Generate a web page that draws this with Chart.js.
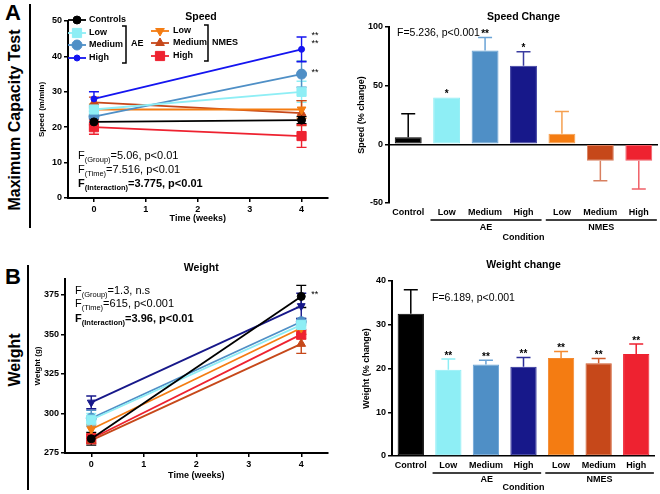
<!DOCTYPE html>
<html>
<head>
<meta charset="utf-8">
<script src="https://cdn.jsdelivr.net/npm/chart.js@4.4.1/dist/chart.umd.min.js"></script>
<style>
  body { margin: 0; background: #fff; width: 660px; height: 494px; position: relative; overflow: hidden; font-family: "Liberation Sans", Arial, sans-serif; }
  .box { position: absolute; }
  .big { position: absolute; font-weight: bold; color: #000; white-space: nowrap; }
  .rot { transform: translate(-50%, -50%) rotate(-90deg); }
  .vline { position: absolute; width: 0; border-left: 2px solid #000; }
</style>
</head>
<body>
<div class="big" style="left:5px;top:0px;font-size:22px;">A</div>
<div class="big rot" style="left:15px;top:120px;font-size:16px;">Maximum Capacity Test</div>
<div class="vline" style="left:29px;top:4px;height:224px;"></div>
<div class="big" style="left:5px;top:264px;font-size:22px;">B</div>
<div class="big rot" style="left:15px;top:360px;font-size:16px;">Weight</div>
<div class="vline" style="left:27px;top:265px;height:225px;"></div>

<div class="box" style="left:30px;top:0px;"><canvas id="c1" width="305" height="236"></canvas></div>
<div class="box" style="left:335px;top:0px;"><canvas id="c2" width="325" height="244"></canvas></div>
<div class="box" style="left:30px;top:248px;"><canvas id="c3" width="305" height="246"></canvas></div>
<div class="box" style="left:335px;top:248px;"><canvas id="c4" width="325" height="246"></canvas></div>

<script>
// ---- data ----
const weeks = [0, 4];
const weekTicks = [0, 1, 2, 3, 4];
const groupNames = ['Controls', 'Low', 'Medium', 'High', 'Low', 'Medium', 'High'];

// speed (m/min) at week 0 and 4
const speedControls = [21.5, 22];
const speedAeLow = [25, 30];
const speedAeMed = [23, 35];
const speedAeHigh = [28, 42];
const speedNmLow = [25, 25];
const speedNmMed = [27, 24];
const speedNmHigh = [20, 17.5];
const speedErr = [[0.8, 1], [1.5, 3], [1.5, 3.7], [2, 3.5], [1.5, 2.5], [1.5, 3.5], [2, 3.2]];

// weight (g) at week 0 and 4
const weightControls = [284, 374];
const weightAeLow = [296, 356];
const weightAeMed = [297, 358];
const weightAeHigh = [307, 368];
const weightNmLow = [290, 354];
const weightNmMed = [283, 344];
const weightNmHigh = [284, 350];
const weightErr = [[4, 7], [4, 3], [5, 2], [4, 8], [3, 4], [2, 6], [3, 3]];

const conditions = ['Control', 'Low', 'Medium', 'High', 'Low', 'Medium', 'High'];
const speedChange = [6, 40, 80, 67, 9, -14, -14];
const speedChangeErr = [20, 0, 11, 12, 19, 17, 24];
const speedChangeStars = ['', '*', '**', '*', '', '', ''];
const weightChange = [32.5, 19.7, 20.9, 20.4, 22.4, 21.2, 23.3];
const weightChangeErr = [5.5, 2.5, 1, 2.1, 1.5, 1.1, 2.3];
const weightChangeStars = ['', '**', '**', '**', '**', '**', '**'];

// ---- styles ----
const FONT = '"Liberation Sans", Arial, sans-serif';
const colA = ['#000000', '#8eeef5', '#4f8fc6', '#1414f0', '#f47c12', '#c6481a', '#ee2230'];
const colB = ['#000000', '#8eeef5', '#4f8fc6', '#17188a', '#f47c12', '#c6481a', '#ee2230'];
const marks = ['circle', 'rect', 'circle', 'circle', 'triangle', 'triangle', 'rect'];
const markSize = [4, 6.5, 5, 3, 5, 5, 6.5];
const markRot = [0, 0, 0, 0, 180, 0, 0];

const tickFont = { family: FONT, size: 9, weight: 'bold' };
const titleFont = { family: FONT, size: 9, weight: 'bold' };

function drawMark(ctx, style, r, rot, color, x, y) {
  ctx.save();
  ctx.fillStyle = color;
  ctx.strokeStyle = color;
  Chart.helpers.drawPoint(ctx, { pointStyle: style, radius: r, rotation: rot, borderWidth: 1 }, x, y);
  ctx.restore();
}

// text with subscripts: parts = [[text, isSub], ...]
function subText(ctx, x, y, parts, bold) {
  const w = bold ? 'bold ' : '';
  ctx.save();
  ctx.fillStyle = '#000';
  ctx.textBaseline = 'middle';
  ctx.textAlign = 'left';
  parts.forEach(([t, sub]) => {
    ctx.font = w + (sub ? '7.5px ' : '11px ') + FONT;
    ctx.fillText(t, x, sub ? y + 4 : y);
    x += ctx.measureText(t).width;
  });
  ctx.restore();
}

function plainText(ctx, t, x, y, font, align) {
  ctx.save();
  ctx.fillStyle = '#000';
  ctx.font = font;
  ctx.textAlign = align || 'center';
  ctx.textBaseline = 'middle';
  ctx.fillText(t, x, y);
  ctx.restore();
}

const lineErrors = {
  id: 'lineErrors',
  beforeDatasetsDraw(chart) {
    const ctx = chart.ctx, ys = chart.scales.y;
    chart.data.datasets.forEach((ds, i) => {
      chart.getDatasetMeta(i).data.forEach((pt, j) => {
        const v = ds.data[j].y, e = ds.err[j];
        const top = ys.getPixelForValue(v + e), bot = ys.getPixelForValue(v - e);
        ctx.save();
        ctx.strokeStyle = ds.borderColor;
        ctx.lineWidth = 1.4;
        ctx.beginPath();
        ctx.moveTo(pt.x, top); ctx.lineTo(pt.x, bot);
        ctx.moveTo(pt.x - 5, top); ctx.lineTo(pt.x + 5, top);
        ctx.moveTo(pt.x - 5, bot); ctx.lineTo(pt.x + 5, bot);
        ctx.stroke();
        ctx.restore();
      });
    });
  }
};

const barErrors = {
  id: 'barErrors',
  afterDatasetsDraw(chart) {
    const ctx = chart.ctx, ys = chart.scales.y;
    const ds = chart.data.datasets[0];
    chart.getDatasetMeta(0).data.forEach((bar, j) => {
      const v = ds.data[j], e = ds.err[j];
      const end = v >= 0 ? v + e : v - e;
      const y0 = ys.getPixelForValue(v), y1 = ys.getPixelForValue(end);
      ctx.save();
      if (e > 0) {
        ctx.strokeStyle = ds.errColor[j];
        ctx.lineWidth = 1.5;
        ctx.beginPath();
        ctx.moveTo(bar.x, y0); ctx.lineTo(bar.x, y1);
        ctx.moveTo(bar.x - 7, y1); ctx.lineTo(bar.x + 7, y1);
        ctx.stroke();
      }
      if (ds.stars[j]) {
        ctx.fillStyle = '#000';
        ctx.font = 'bold 10px ' + FONT;
        ctx.textAlign = 'center';
        ctx.textBaseline = 'bottom';
        ctx.fillText(ds.stars[j], bar.x, Math.min(y0, y1) + 2);
      }
      ctx.restore();
    });
  }
};

// group brackets AE / NMES under bar charts
function groupLines(lineY, labelY) {
  return {
    id: 'groups',
    afterDraw(chart) {
      const ctx = chart.ctx, xs = chart.scales.x;
      const step = xs.getPixelForValue(1) - xs.getPixelForValue(0);
      [['AE', 1, 3], ['NMES', 4, 6]].forEach(([name, a, b]) => {
        const x0 = xs.getPixelForValue(a) - step * 0.42, x1 = xs.getPixelForValue(b) + step * 0.47;
        ctx.save();
        ctx.strokeStyle = '#000';
        ctx.lineWidth = 1.5;
        ctx.beginPath();
        ctx.moveTo(x0, lineY); ctx.lineTo(x1, lineY);
        ctx.stroke();
        ctx.restore();
        plainText(ctx, name, (x0 + x1) / 2, labelY, 'bold 9px ' + FONT);
      });
    }
  };
}

function axisOpts(extra) {
  return Object.assign({
    grid: { drawOnChartArea: false, color: '#000', tickColor: '#000', tickLength: 4, lineWidth: 1.5 },
    border: { display: true, color: '#000', width: 2 },
    ticks: { font: tickFont, color: '#000', padding: 2 }
  }, extra);
}

function lineDatasets(series, errs, colors, rots) {
  return series.map((vals, i) => ({
    label: groupNames[i],
    data: weeks.map((w, j) => ({ x: w, y: vals[j] })),
    err: errs[i],
    borderColor: colors[i],
    backgroundColor: colors[i],
    pointBorderColor: colors[i],
    pointStyle: marks[i],
    pointRadius: markSize[i],
    pointRotation: rots[i],
    pointBorderWidth: 1,
    borderWidth: 1.8,
    tension: 0
  }));
}

// ---- A: speed lines ----
const speedLegend = {
  id: 'speedLegend',
  afterDraw(chart) {
    const ctx = chart.ctx;
    const rowsL = [20, 33, 45, 58], rowsR = [31, 43, 56];
    const lf = 'bold 9px ' + FONT;
    rowsL.forEach((y, i) => {
      ctx.save(); ctx.strokeStyle = colA[i]; ctx.lineWidth = 1.8;
      ctx.beginPath(); ctx.moveTo(38, y); ctx.lineTo(56, y); ctx.stroke(); ctx.restore();
      drawMark(ctx, marks[i], markSize[i], markRot[i], colA[i], 47, y);
      plainText(ctx, groupNames[i], 59, y, lf, 'left');
    });
    rowsR.forEach((y, k) => {
      const i = k + 4;
      ctx.save(); ctx.strokeStyle = colA[i]; ctx.lineWidth = 1.8;
      ctx.beginPath(); ctx.moveTo(121, y); ctx.lineTo(139, y); ctx.stroke(); ctx.restore();
      drawMark(ctx, marks[i], markSize[i], markRot[i], colA[i], 130, y);
      plainText(ctx, groupNames[i], 143, y, lf, 'left');
    });
    ctx.save(); ctx.strokeStyle = '#000'; ctx.lineWidth = 1.5;
    ctx.beginPath();
    ctx.moveTo(92, 26); ctx.lineTo(96, 26); ctx.lineTo(96, 63); ctx.lineTo(92, 63);
    ctx.moveTo(174, 25); ctx.lineTo(178, 25); ctx.lineTo(178, 61); ctx.lineTo(174, 61);
    ctx.stroke(); ctx.restore();
    plainText(ctx, 'AE', 101, 44, lf, 'left');
    plainText(ctx, 'NMES', 182, 43, lf, 'left');
    plainText(ctx, 'Speed', 171, 17, 'bold 10.5px ' + FONT);

    subText(ctx, 48, 156, [['F', 0], ['(Group)', 1], ['=5.06, p<0.01', 0]]);
    subText(ctx, 48, 170, [['F', 0], ['(Time)', 1], ['=7.516, p<0.01', 0]]);
    subText(ctx, 48, 184, [['F', 0], ['(Interaction)', 1], ['=3.775, p<0.01', 0]], true);

    const xs = chart.scales.x, ys = chart.scales.y;
    const sx = xs.getPixelForValue(4) + 10;
    [46, 43.6, 35.5].forEach(v => plainText(ctx, '**', sx, ys.getPixelForValue(v), '9px ' + FONT, 'left'));
  }
};

new Chart(document.getElementById('c1'), {
  type: 'line',
  data: { datasets: lineDatasets([speedControls, speedAeLow, speedAeMed, speedAeHigh, speedNmLow, speedNmMed, speedNmHigh], speedErr, colA, markRot) },
  options: {
    responsive: false, animation: false,
    layout: { padding: { top: 21, right: 2, left: 0, bottom: 0 } },
    plugins: { legend: { display: false }, tooltip: { enabled: false } },
    scales: {
      x: axisOpts({
        type: 'linear', min: -0.5, max: 4.5,
        afterBuildTicks: s => { s.ticks = weekTicks.map(v => ({ value: v })); },
        afterFit: s => { s.height = 38; },
        title: { display: true, text: 'Time (weeks)', font: titleFont, color: '#000', padding: { top: 0, bottom: 12 } }
      }),
      y: axisOpts({
        min: 0, max: 50,
        afterBuildTicks: s => { s.ticks = [0, 10, 20, 30, 40, 50].map(v => ({ value: v })); },
        afterFit: s => { s.width = 38; },
        title: { display: true, text: 'Speed (m/min)', font: { family: FONT, size: 8, weight: 'bold' }, color: '#000', padding: { top: 7, bottom: 0 } }
      })
    }
  },
  plugins: [lineErrors, speedLegend]
});

// ---- bar charts ----
function barChart(id, values, errs, stars, colors, errColors, yOpts, pad, xHeight, yWidth, yTitle, yTitlePad, title, fText, fPos, grp) {
  return new Chart(document.getElementById(id), {
    type: 'bar',
    data: {
      labels: conditions,
      datasets: [{ data: values, err: errs, stars: stars, errColor: errColors, backgroundColor: colors, borderColor: errColors, borderWidth: 1, borderSkipped: false, categoryPercentage: 1, barPercentage: 0.7 }]
    },
    options: {
      responsive: false, animation: false,
      layout: { padding: pad },
      plugins: { legend: { display: false }, tooltip: { enabled: false } },
      scales: {
        x: {
          grid: { display: false, drawTicks: false },
          border: { display: false },
          ticks: { font: tickFont, color: '#000', padding: 4, maxRotation: 0, minRotation: 0, autoSkip: false },
          afterFit: s => { s.height = xHeight; },
          title: { display: true, text: 'Condition', font: titleFont, color: '#000', padding: { top: 0, bottom: 1 } }
        },
        y: Object.assign({
          grid: { drawOnChartArea: true, color: c => (c.tick && c.tick.value === 0 ? '#000' : 'rgba(0,0,0,0)'), tickColor: '#000', tickLength: 4, lineWidth: 1.5 },
          border: { display: true, color: '#000', width: 2 },
          ticks: { font: tickFont, color: '#000', padding: 2 },
          afterFit: s => { s.width = yWidth; },
          title: { display: true, text: yTitle, font: titleFont, color: '#000', padding: { top: yTitlePad, bottom: 0 } }
        }, yOpts)
      }
    },
    plugins: [barErrors, grp, {
      id: 'texts',
      afterDraw(chart) {
        const ca = chart.chartArea;
        plainText(chart.ctx, title, (ca.left + ca.right) / 2, 17, 'bold 10.5px ' + FONT);
        plainText(chart.ctx, fText, fPos[0], fPos[1], '10.5px ' + FONT, 'left');
      }
    }]
  });
}

const barErrColA = ['#000000', '#8eeef5', '#6aa3d6', '#3a3ca0', '#f5a050', '#d88060', '#f06068'];
const barErrColB = ['#000000', '#8eeef5', '#6aa3d6', '#2a2c98', '#f48a30', '#d05a2a', '#ee2230'];

// ---- A: speed change ----
barChart('c2', speedChange, speedChangeErr, speedChangeStars, colB, barErrColA,
  { min: -50, max: 100, afterBuildTicks: s => { s.ticks = [-50, 0, 50, 100].map(v => ({ value: v })); } },
  { top: 27, right: 2, left: 0, bottom: 0 }, 41, 54, 'Speed (% change)', 21,
  'Speed Change', 'F=5.236, p<0.001', [62, 33], groupLines(220, 228));

// ---- B: weight lines ----
const weightTexts = {
  id: 'weightTexts',
  afterDraw(chart) {
    const ctx = chart.ctx, ca = chart.chartArea;
    plainText(ctx, 'Weight', (ca.left + ca.right) / 2 + 5, 20, 'bold 10.5px ' + FONT);
    subText(ctx, 45, 43, [['F', 0], ['(Group)', 1], ['=1.3, n.s', 0]]);
    subText(ctx, 45, 56, [['F', 0], ['(Time)', 1], ['=615, p<0.001', 0]]);
    subText(ctx, 45, 71, [['F', 0], ['(Interaction)', 1], ['=3.96, p<0.01', 0]], true);
    const xs = chart.scales.x, ys = chart.scales.y;
    plainText(ctx, '**', xs.getPixelForValue(4) + 10, ys.getPixelForValue(375), '9px ' + FONT, 'left');
  }
};

const rotB = [0, 0, 0, 180, 180, 0, 0];
new Chart(document.getElementById('c3'), {
  type: 'line',
  data: { datasets: lineDatasets([weightControls, weightAeLow, weightAeMed, weightAeHigh, weightNmLow, weightNmMed, weightNmHigh], weightErr, colB, rotB).map((d, i) => Object.assign(d, i === 3 ? { pointStyle: 'triangle', pointRadius: 4.5 } : {})) },
  options: {
    responsive: false, animation: false,
    layout: { padding: { top: 31, right: 6, left: 0, bottom: 0 } },
    plugins: { legend: { display: false }, tooltip: { enabled: false } },
    scales: {
      x: axisOpts({
        type: 'linear', min: -0.5, max: 4.5,
        afterBuildTicks: s => { s.ticks = weekTicks.map(v => ({ value: v })); },
        afterFit: s => { s.height = 41; },
        title: { display: true, text: 'Time (weeks)', font: titleFont, color: '#000', padding: { top: 0, bottom: 13 } }
      }),
      y: axisOpts({
        min: 275, max: 385,
        afterBuildTicks: s => { s.ticks = [275, 300, 325, 350, 375].map(v => ({ value: v })); },
        afterFit: s => { s.width = 35; },
        title: { display: true, text: 'Weight (g)', font: { family: FONT, size: 8, weight: 'bold' }, color: '#000', padding: { top: 3, bottom: 0 } }
      })
    }
  },
  plugins: [lineErrors, weightTexts]
});

// ---- B: weight change ----
barChart('c4', weightChange, weightChangeErr, weightChangeStars, colB, barErrColB,
  { min: 0, max: 40, afterBuildTicks: s => { s.ticks = [0, 10, 20, 30, 40].map(v => ({ value: v })); } },
  { top: 33, right: 5, left: 0, bottom: 0 }, 38, 57, 'Weight (% change)', 26,
  'Weight change', 'F=6.189, p<0.001', [97, 50], groupLines(225, 232));
</script>
</body>
</html>
